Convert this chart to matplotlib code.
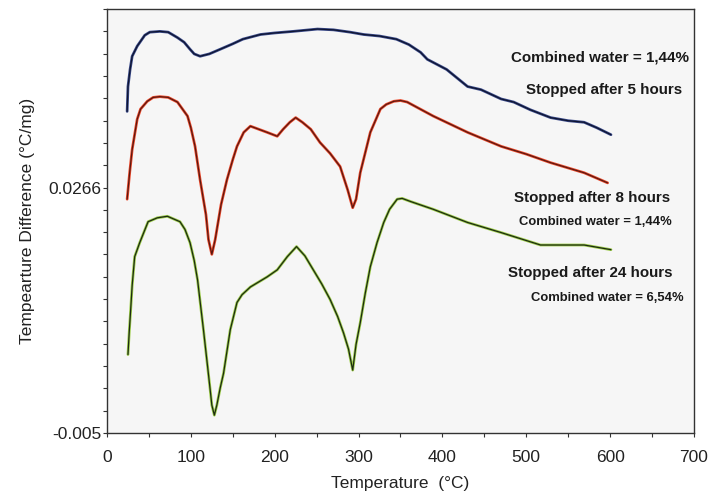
import matplotlib
matplotlib.use("Agg")
import matplotlib.pyplot as plt
import numpy as np
from matplotlib.ticker import FixedLocator, NullFormatter

plt.rcParams['font.family'] = ['Liberation Sans', 'DejaVu Sans']

# DTA curves: temperature (°C) and temperature difference (°C/mg)
temp_5h = [24, 25, 27.5, 30, 36, 45, 51, 63, 73, 84, 92, 99, 104, 111, 122, 135, 150,
           162, 183, 200, 222, 251, 270, 290, 306, 325, 345, 360, 374, 382, 405, 430,
           446, 470, 485, 505, 529, 550, 569, 584, 601]
dta_5h = [0.0364, 0.0396, 0.0418, 0.0435, 0.0448, 0.0462, 0.0466, 0.0467, 0.0466,
          0.0459, 0.0453, 0.0444, 0.0438, 0.0435, 0.0438, 0.0444, 0.0451,
          0.0457, 0.0463, 0.0465, 0.0467, 0.0470, 0.0469, 0.0466, 0.0463, 0.0461,
          0.0457, 0.0450, 0.0440, 0.0431, 0.0418, 0.0396, 0.0392, 0.0380, 0.0376,
          0.0366, 0.0356, 0.0352, 0.0350, 0.0343, 0.0334]

temp_8h = [24, 27, 30, 36, 40, 48, 55, 63, 73, 84, 90, 96, 100, 105, 111, 118, 121,
           125, 129, 136, 143, 150, 155, 163, 171, 191, 203, 210, 218, 225, 233, 243,
           254, 266, 278, 287, 293, 297, 302, 314, 326, 333, 342, 350, 358, 389, 430,
           470, 500, 529, 569, 597]
dta_8h = [0.0251, 0.0285, 0.0315, 0.0354, 0.0367, 0.0377, 0.0382, 0.0383, 0.0382,
          0.0376, 0.0367, 0.0358, 0.0343, 0.0319, 0.0276, 0.0231, 0.0199,
          0.0180, 0.0199, 0.0244, 0.0276, 0.0302, 0.0319, 0.0337, 0.0345, 0.0337,
          0.0332, 0.0341, 0.0350, 0.0356, 0.0350, 0.0341, 0.0324, 0.0310, 0.0293,
          0.0263, 0.0240, 0.0251, 0.0285, 0.0337, 0.0367, 0.0373, 0.0377, 0.0378,
          0.0376, 0.0358, 0.0337, 0.0319, 0.0309, 0.0298, 0.0285, 0.0272]

temp_24h = [25, 26.5, 28, 30, 33, 39, 49, 60, 72, 87, 93, 99, 104, 108, 115, 120, 123,
            125, 128, 131, 135, 139, 147, 155, 161, 171, 191, 203, 215, 226, 236, 246,
            256, 266, 275, 282, 288, 293, 297, 302, 308, 314, 322, 330, 337, 346, 352,
            362, 389, 430, 470, 517, 569, 601]
dta_24h = [0.0051, 0.0080, 0.0105, 0.0140, 0.0177, 0.0195, 0.0222, 0.0227, 0.0229,
           0.0222, 0.0212, 0.0195, 0.0172, 0.0147, 0.0083, 0.0035, 0.0006,
           -0.0014, -0.0027, -0.0014, 0.0008, 0.0027, 0.0083, 0.0118, 0.0128, 0.0138,
           0.0151, 0.0160, 0.0177, 0.0190, 0.0178, 0.0160, 0.0142, 0.0122, 0.0100,
           0.0079, 0.0058, 0.0031, 0.0064, 0.0092, 0.0130, 0.0164, 0.0195, 0.0221,
           0.0238, 0.0251, 0.0252, 0.0248, 0.0238, 0.0221, 0.0208, 0.0192, 0.0192,
           0.0186]

y_min, y_label_mid = -0.005, 0.0266
y_step = (y_label_mid - y_min) / 11
y_max = y_min + 19 * y_step

fig = plt.figure(figsize=(7.26, 5.0), dpi=100)
ax = fig.add_axes([0.1474, 0.134, 0.8085, 0.848])
ax.set_facecolor('#f6f6f6')

series = [
    (temp_5h, dta_5h, '#3a4a8a', '#0e1430'),
    (temp_8h, dta_8h, '#ec4a2c', '#5a1810'),
    (temp_24h, dta_24h, '#9ccc48', '#1c2a12'),
]
for t, d, halo, core in series:
    ax.plot(t, d, color=halo, lw=2.0, solid_capstyle='round',
            solid_joinstyle='round', zorder=2)
    ax.plot(t, d, color=core, lw=0.9, solid_capstyle='round',
            solid_joinstyle='round', zorder=3)

ax.set_xlim(0, 700)
ax.set_ylim(y_min, y_max)
ax.set_xticks(np.arange(0, 701, 100))
ax.xaxis.set_minor_locator(FixedLocator(np.arange(50, 700, 100)))
ax.set_yticks([y_min, y_label_mid])
ax.set_yticklabels(['-0.005', '0.0266'])
ax.yaxis.set_minor_locator(FixedLocator([y_min + k * y_step for k in range(20)]))
ax.yaxis.set_minor_formatter(NullFormatter())
ax.tick_params(axis='both', which='both', direction='out', length=3, width=0.8,
               colors='#333333', labelsize=12.5, labelcolor='#222222')
ax.tick_params(axis='x', which='major', pad=9)
ax.tick_params(axis='y', which='major', pad=1)
for s in ax.spines.values():
    s.set_color('#333333')
    s.set_linewidth(1.0)

ax.set_xlabel('Temperature  (°C)', fontsize=12.5, color='#222222', labelpad=8)
ax.set_ylabel('Tempearture Difference (°C/mg)', fontsize=12.5, color='#222222',
              labelpad=10)

notes = [
    ('Combined water = 1,44%', 588, 0.0434, 10.9),
    ('Stopped after 5 hours', 593, 0.0392, 10.9),
    ('Stopped after 8 hours', 579, 0.0253, 10.9),
    ('Combined water = 1,44%', 582, 0.0221, 9.4),
    ('Stopped after 24 hours', 576, 0.0156, 10.9),
    ('Combined water = 6,54%', 597, 0.0124, 9.4),
]
for txt, tx, ty, fs in notes:
    ax.text(tx, ty, txt, ha='center', va='center', fontsize=fs, fontweight='bold',
            color='#1a1a1a', zorder=4)

fig.savefig('out.png', dpi=100, facecolor='white')
